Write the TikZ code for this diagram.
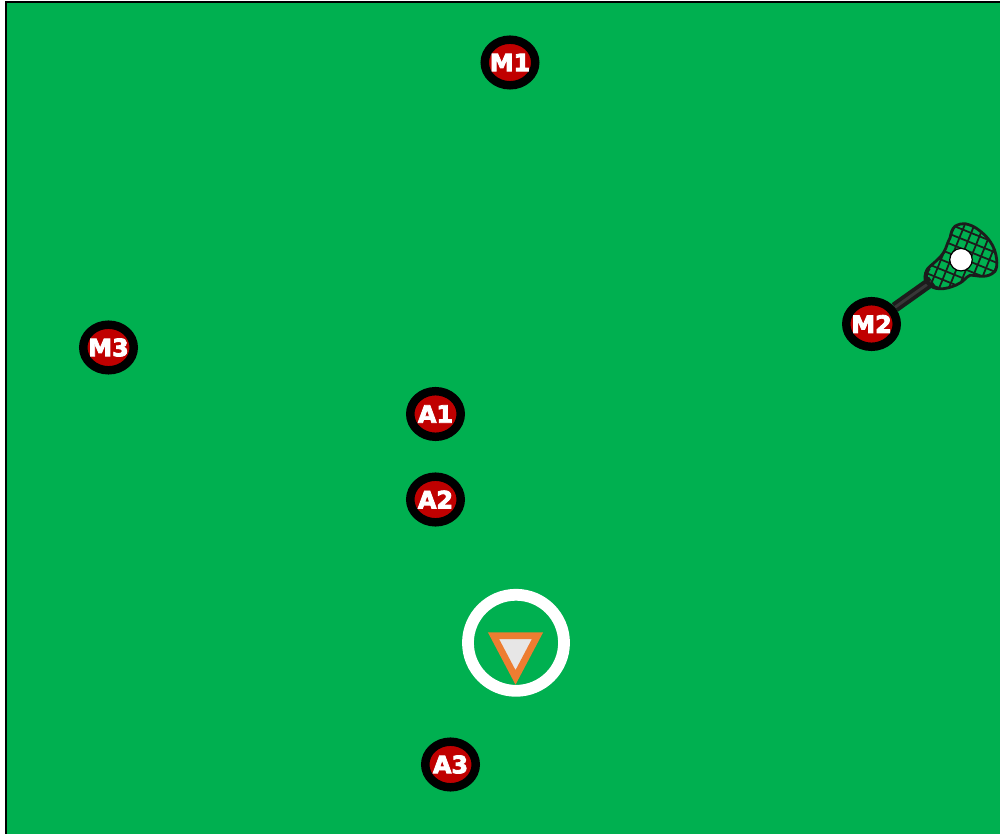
\documentclass[tikz,border=0pt]{standalone}
\usepackage{fontspec}
\usetikzlibrary{shapes.geometric,backgrounds}
\newfontfamily\playerfont[FakeBold=3.5]{DejaVu Sans Bold}
\newcommand{\plab}[1]{\makebox[0pt]{#1}}
\definecolor{field}{HTML}{00B050}
\definecolor{redfill}{HTML}{C00000}
\definecolor{goalorange}{HTML}{ED7D31}
\definecolor{goalgrey}{HTML}{E7E6E6}
\definecolor{stick}{HTML}{1C1C1C}
\tikzset{
  x=0.01cm,y=-0.01cm,
  player/.style={ellipse,draw=black,fill=redfill,line width=2.4pt,inner sep=0pt,
    minimum width=0.505cm,minimum height=0.456cm,text=white,
    font=\playerfont\fontsize{6.8}{6.8}\selectfont},
  crease/.style={circle,draw=white,line width=3.35pt,inner sep=0pt,minimum size=0.96cm},
  ball/.style={circle,draw=black,fill=white,line width=0.35pt,inner sep=0pt,minimum size=0.225cm},
  handle/.style={draw=stick,line width=3pt},
  mesh/.style={draw=stick,line width=0.5pt}
}
\begin{document}
\begin{tikzpicture}
\useasboundingbox (0,0) rectangle (1000,834);

\node[player] (m1) at (510,62.5) {\plab{M1}};
\node[player] (m2) at (871.5,324) {\plab{M2}};
\node[player] (m3) at (108.5,347.5) {\plab{M3}};
\node[player] (a1) at (435.5,414) {\plab{A1}};
\node[player] (a2) at (435.5,499.5) {\plab{A2}};
\node[player] (a3) at (450.5,764.5) {\plab{A3}};
\node[crease] (goal) at (516,642.8) {};
\coordinate (throat) at (932,281);

\begin{scope}[on background layer]
\fill[white] (0,0) rectangle (1000,834);
\fill[field] (6,2) rectangle (1000,834);
\draw[black,line width=0.57pt] (6,834) -- (6,2) -- (1000,2);
\draw[handle] (m2) -- (throat);
\draw[draw=white!12!stick,line width=0.8pt] (m2) -- (throat);
\end{scope}

% lacrosse head
\def\headpath{(955,226.3) .. controls (959,224) and (962,223.5) .. (965,223.7)
  .. controls (971,225) and (974,226.5) .. (978.3,229.7)
  .. controls (983,233) and (987,237) .. (990,241.3)
  .. controls (994,247) and (996,253) .. (996.7,259.7)
  .. controls (997,264) and (997,268) .. (995,271.3)
  .. controls (991,275) and (988,276) .. (983.3,276.3)
  .. controls (978,276.5) and (974,275) .. (970,275.3)
  .. controls (966,277) and (964,281) .. (960,283)
  .. controls (955,286) and (949,288) .. (943.3,288.7)
  .. controls (938,289) and (934,288.5) .. (931.7,286.3)
  .. controls (927,283) and (924,280) .. (925,276.3)
  .. controls (925.5,272) and (927,269) .. (930,266.3)
  .. controls (935,262) and (940,258) .. (943.3,253)
  .. controls (947,247) and (947,243) .. (950,238)
  .. controls (951,233) and (952,229) .. (955,226.3) -- cycle}
\begin{scope}
\clip \headpath;
\begin{scope}[rotate around={-22:(961,258)}]
\foreach \k in {-6,...,6}{
  \draw[mesh] (921,258+9*\k) -- (1001,258+9*\k);
  \draw[mesh] (961+9*\k,218) -- (961+9*\k,298);
}
\end{scope}
\end{scope}
\draw[draw=stick,line width=0.8pt] \headpath;
\draw[draw=stick,line width=1.1pt] (929,268) .. controls (923,276) and (926,284) .. (934,287);
\node[ball] (b) at (961,259.7) {};

% goalie
\filldraw[draw=goalorange,fill=goalgrey,line width=1.93pt,line join=miter,miter limit=10]
  (493.5,635.7) -- (537.5,635.7) -- (515.5,677.4) -- cycle;
\end{tikzpicture}
\end{document}
